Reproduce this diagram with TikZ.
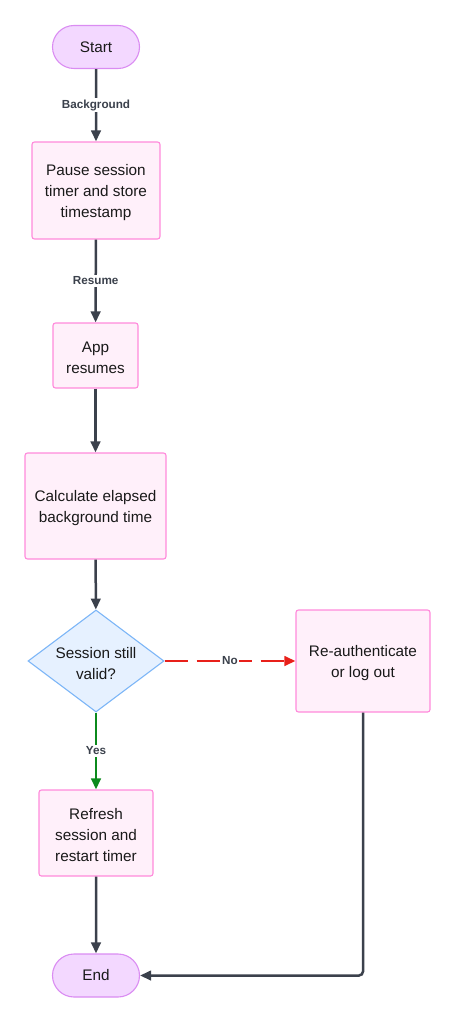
\documentclass[tikz,border=0pt]{standalone}
\usepackage{fontspec}
\setmainfont{Liberation Sans}
\usetikzlibrary{shapes.geometric,shapes.misc,arrows.meta}
\definecolor{edgec}{HTML}{3B414C}
\definecolor{termfill}{HTML}{F3D8FF}
\definecolor{termdraw}{HTML}{DA8CF2}
\definecolor{boxfill}{HTML}{FFF0FA}
\definecolor{boxdraw}{HTML}{FF8ADB}
\definecolor{decfill}{HTML}{E6F1FF}
\definecolor{decdraw}{HTML}{7DB6F7}
\definecolor{noc}{HTML}{E8201A}
\definecolor{yesc}{HTML}{0B8A1C}
\newcommand{\tstrut}{\rule{0pt}{15.5pt}}
\tikzset{
  x=1pt,y=-1pt,
  base/.style={font=\fontsize{15.3}{21}\selectfont, text=black!90, align=center, line width=1.1pt, inner sep=0pt},
  term/.style={base, rounded rectangle, fill=termfill, draw=termdraw, minimum width=87pt, minimum height=43pt},
  proc/.style={base, rectangle, rounded corners=2.5pt, fill=boxfill, draw=boxdraw},
  dec/.style={base, diamond, fill=decfill, draw=decdraw, minimum width=136pt, minimum height=102pt, aspect=1.33},
  flow/.style={draw=edgec, line width=2.5pt, -{Triangle[length=11pt,width=9.5pt]}, shorten >=0pt},
  lbl/.style={font=\fontsize{11.7}{13}\selectfont\bfseries, text=edgec, fill=white, inner sep=1.5pt},
}
\begin{document}
\begin{tikzpicture}
\useasboundingbox (0,0) rectangle (457,1024);
\node[term] (start) at (96,47) {Start};
\node[proc, minimum width=128pt, minimum height=97pt] (pause) at (96,190.5) {\tstrut Pause session\\timer and store\\timestamp};
\node[proc, minimum width=85pt, minimum height=65pt] (app) at (95.5,355.5) {\tstrut App\\resumes};
\node[proc, minimum width=141pt, minimum height=106pt] (calc) at (95.5,506) {\tstrut Calculate elapsed\\background time};
\node[dec] (valid) at (96,661) {\tstrut Session still\\valid?};
\node[proc, minimum width=134pt, minimum height=102pt] (reauth) at (363,661) {\tstrut Re-authenticate\\or log out};
\node[proc, minimum width=114pt, minimum height=86pt] (refresh) at (96,833) {\tstrut Refresh\\session and\\restart timer};
\node[term] (end) at (96,975.5) {End};
\coordinate (corner) at (363,975.5);

\draw[flow] (start) -- node[lbl] {Background} (pause);
\draw[flow] (pause) -- node[lbl] {Resume} (app);
\draw[flow] (app) -- (calc);
\draw[flow] (calc) -- (valid);
\draw[flow, draw=noc, dash pattern=on 23pt off 9pt] (valid.east) -- node[lbl] {No} (reauth.west);
\draw[flow, draw=yesc] (valid.south) -- node[lbl, pos=0.5] {Yes} (refresh.north);
\draw[flow] (refresh) -- (end);
\draw[flow, rounded corners=4pt] (reauth.south) -- (corner) -- (end.east);
\end{tikzpicture}
\end{document}
